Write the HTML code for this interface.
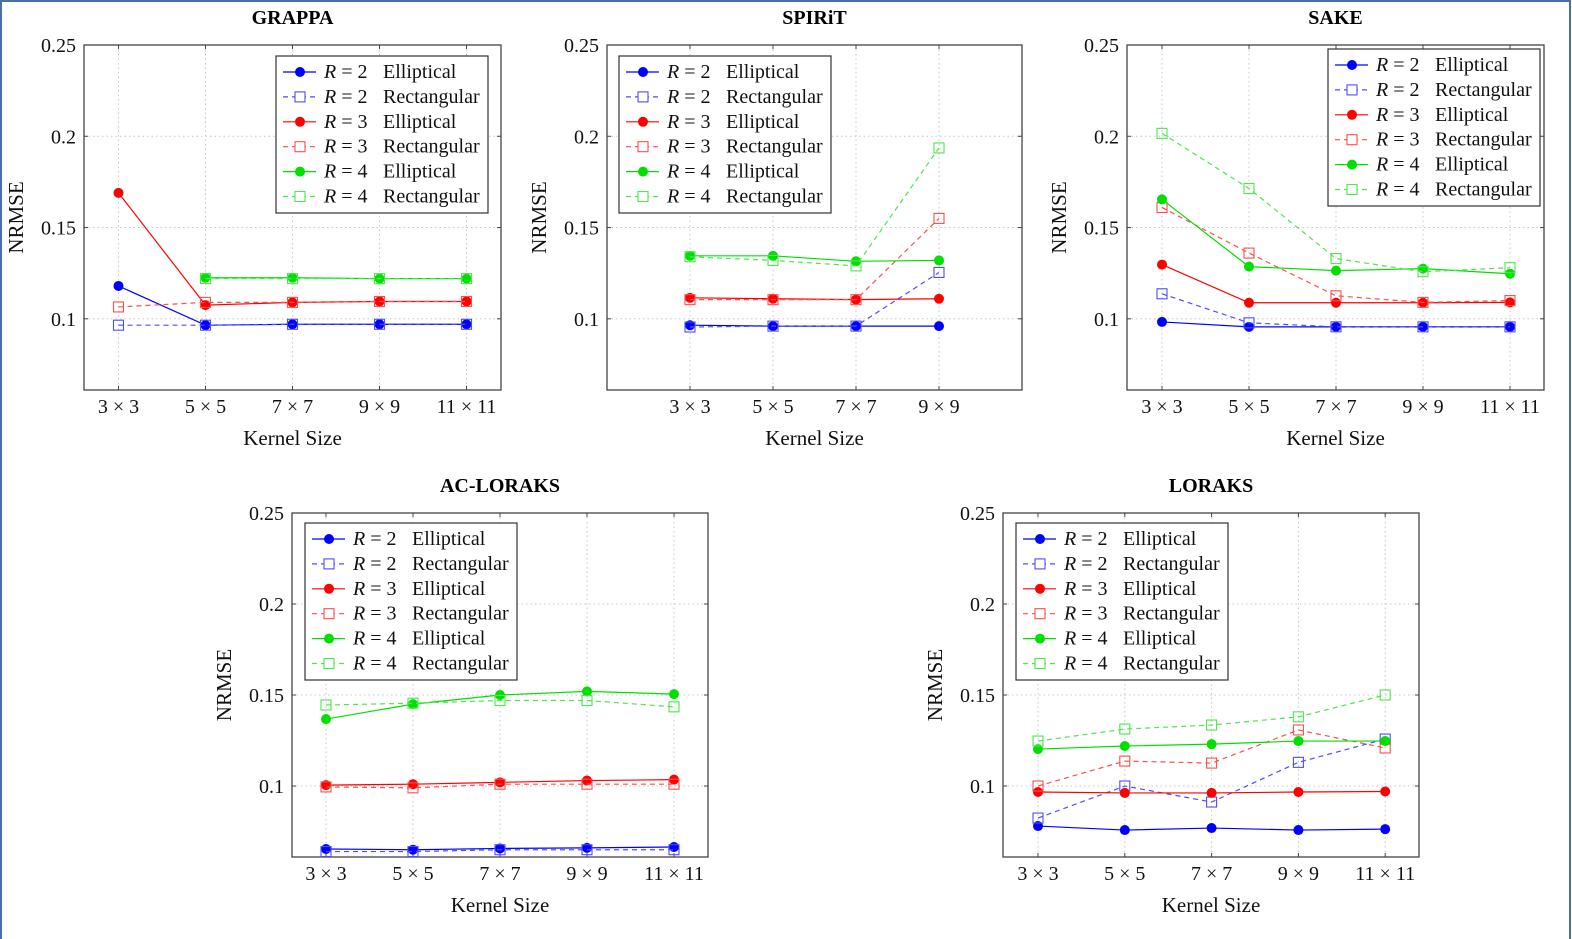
<!DOCTYPE html>
<html><head><meta charset="utf-8">
<style>
body{margin:0;background:#fff;}
svg{display:block;font-family:"Liberation Serif",serif;}
</style></head>
<body>
<svg id="c" width="1572" height="939" viewBox="0 0 1572 939">
<rect x="1" y="1" width="1569" height="950" fill="none" stroke="#4a6fa5" stroke-width="2"/>
</svg>
<script>
const kernelLabels = ["3 × 3","5 × 5","7 × 7","9 × 9","11 × 11"];
const yTicks = [0.1, 0.15, 0.2, 0.25];
const yTickLabels = ["0.1","0.15","0.2","0.25"];
const seriesNames = ["R2E","R2R","R3E","R3R","R4E","R4R"];
const seriesR = ["2","2","3","3","4","4"];
const seriesShape = ["Elliptical","Rectangular","Elliptical","Rectangular","Elliptical","Rectangular"];

const grappaR2E = [0.118,0.0965,0.097,0.097,0.097];
const grappaR2R = [0.0965,0.0965,0.097,0.097,0.097];
const grappaR3E = [0.169,0.1075,0.109,0.1095,0.1095];
const grappaR3R = [0.1065,0.109,0.109,0.1095,0.1095];
const grappaR4E = [null,0.1225,0.1225,0.122,0.122];
const grappaR4R = [null,0.122,0.122,0.122,0.122];

const spiritR2E = [0.0965,0.096,0.096,0.096];
const spiritR2R = [0.0955,0.096,0.096,0.1254];
const spiritR3E = [0.1115,0.111,0.1105,0.111];
const spiritR3R = [0.1105,0.1105,0.1105,0.155];
const spiritR4E = [0.1345,0.1345,0.1315,0.132];
const spiritR4R = [0.134,0.132,0.129,0.1936];

const sakeR2E = [0.0983,0.0956,0.0956,0.0956,0.0956];
const sakeR2R = [0.1137,0.0978,0.0956,0.0956,0.0956];
const sakeR3E = [0.1297,0.1088,0.1088,0.1088,0.109];
const sakeR3R = [0.161,0.136,0.1126,0.109,0.11];
const sakeR4E = [0.1654,0.1286,0.1264,0.1275,0.1247];
const sakeR4R = [0.2016,0.1714,0.133,0.1258,0.128];

const acR2E = [0.0654,0.065,0.0657,0.066,0.0665];
const acR2R = [0.064,0.064,0.065,0.065,0.065];
const acR3E = [0.1005,0.101,0.102,0.103,0.1035];
const acR3R = [0.0995,0.099,0.101,0.101,0.101];
const acR4E = [0.1368,0.145,0.150,0.152,0.1505];
const acR4R = [0.1445,0.1455,0.147,0.147,0.1435];

const lorR2E = [0.078,0.0758,0.0769,0.0758,0.0763];
const lorR2R = [0.0824,0.100,0.0912,0.113,0.1258];
const lorR3E = [0.0967,0.0962,0.0962,0.0967,0.097];
const lorR3R = [0.100,0.1137,0.1126,0.1308,0.1209];
const lorR4E = [0.1203,0.122,0.123,0.1247,0.1247];
const lorR4R = [0.1247,0.1313,0.1335,0.138,0.150];

const colors = ["#0000ff","#4d4dff","#ff0000","#ff4d4d","#00e000","#4de64d"];
const NS = "http://www.w3.org/2000/svg";
const svg = document.getElementById("c");
function mk(tag, attrs, parent, text){
  const e = document.createElementNS(NS, tag);
  for (const k in attrs) e.setAttribute(k, attrs[k]);
  if (text !== undefined) e.textContent = text;
  (parent||svg).appendChild(e);
  return e;
}

function drawPlot(cfg){
  const g = mk("g", {});
  
  
  const L=cfg.x0, R=cfg.x1, T=cfg.y0, B=cfg.y1;
  const yMin=0.061, yMax=0.25;
  const ys = v => B - (v - yMin)/(yMax - yMin)*(B - T);
  const xs = i => cfg.firstX + i*cfg.dx;
  const n = cfg.data[0].length;
  for (let i=0;i<n;i++){
    const gl = mk("line",{x1:xs(i),x2:xs(i),y1:T,y2:B,stroke:"#c8c8c8","stroke-dasharray":"1.5 3","stroke-width":1},g);
    
    
    mk("line",{x1:xs(i),x2:xs(i),y1:B,y2:B-4,stroke:"#444"},g);
    mk("line",{x1:xs(i),x2:xs(i),y1:T,y2:T+4,stroke:"#444"},g);
    const tl = mk("text",{x:xs(i),y:B+23,"text-anchor":"middle","font-size":20,fill:"#111"},g,kernelLabels[i]);
    
    
  }
  for (let j=0;j<yTicks.length;j++){
    const y = ys(yTicks[j]);
    if (j<yTicks.length-1){
      const gl = mk("line",{x1:L,x2:R,y1:y,y2:y,stroke:"#c8c8c8","stroke-dasharray":"1.5 3","stroke-width":1},g);
      
      
    }
    mk("line",{x1:L,x2:L+4,y1:y,y2:y,stroke:"#444"},g);
    mk("line",{x1:R,x2:R-4,y1:y,y2:y,stroke:"#444"},g);
    const tl = mk("text",{x:L-8,y:y+7,"text-anchor":"end","font-size":20,fill:"#111"},g,yTickLabels[j]);
    
    
  }
  const box = mk("rect",{x:L,y:T,width:R-L,height:B-T,fill:"none",stroke:"#444","stroke-width":1.3},g);
  
  
  const title = mk("text",{x:(L+R)/2,y:T-21,"text-anchor":"middle","font-size":20,"font-weight":"bold",fill:"#000"},g,cfg.title);
  
  
  const xt = mk("text",{x:(L+R)/2,y:B+55,"text-anchor":"middle","font-size":21,fill:"#111"},g,"Kernel Size");
  
  
  const cy=(T+B)/2, cx=L-61;
  const yt = mk("text",{x:cx,y:cy,"text-anchor":"middle","font-size":21,fill:"#111",transform:`rotate(-90 ${cx} ${cy})`},g,"NRMSE");
  
  
  cfg.data.forEach((arr,s)=>{
    const col = colors[s], rect = s%2===1;
    const sg = mk("g",{},g);
    
    
    let d="";
    arr.forEach((v,i)=>{ if(v===null) return; d += (d?"L":"M")+xs(i)+" "+ys(v)+" "; });
    mk("path",{d:d,fill:"none",stroke:col,"stroke-width":1.2,"stroke-dasharray":rect?"5 4":"none"},sg);
    arr.forEach((v,i)=>{
      if(v===null) return;
      let m;
      if(rect) m = mk("rect",{x:xs(i)-5,y:ys(v)-5,width:10,height:10,fill:"none",stroke:col,"stroke-width":1.1},sg);
      else m = mk("circle",{cx:xs(i),cy:ys(v),r:5,fill:col},sg);
      
      
    });
  });
  const lg = mk("g",{},g);
  
  
  const lx=cfg.lx, ly=cfg.ly;
  mk("rect",{x:lx,y:ly,width:212,height:157,fill:"#fff",stroke:"#333","stroke-width":1.2},lg);
  for(let s=0;s<6;s++){
    const y = ly+16+s*24.9, col=colors[s], rect=s%2===1;
    const e = mk("g",{},lg);
    
    
    mk("line",{x1:lx+7,x2:lx+40,y1:y,y2:y,stroke:col,"stroke-width":1.2,"stroke-dasharray":rect?"5 4":"none"},e);
    if(rect) mk("rect",{x:lx+19,y:y-5,width:10,height:10,fill:"#fff",stroke:col,"stroke-width":1.1},e);
    else mk("circle",{cx:lx+24,cy:y,r:5,fill:col},e);
    const t = mk("text",{x:lx+48,y:y+6,"font-size":20,fill:"#111"},e);
    mk("tspan",{"font-style":"italic"},t,"R");
    mk("tspan",{},t," = "+seriesR[s]);
    mk("text",{x:lx+107,y:y+6,"font-size":20,fill:"#111"},e,seriesShape[s]);
  }
}

drawPlot({id:"grappa",title:"GRAPPA",x0:84,x1:501,y0:45,y1:390,firstX:118.5,dx:87,lx:276,ly:56,
  data:[grappaR2E,grappaR2R,grappaR3E,grappaR3R,grappaR4E,grappaR4R]});
drawPlot({id:"spirit",title:"SPIRiT",x0:607,x1:1022,y0:45,y1:390,firstX:690,dx:83,lx:619,ly:56,
  data:[spiritR2E,spiritR2R,spiritR3E,spiritR3R,spiritR4E,spiritR4R]});
drawPlot({id:"sake",title:"SAKE",x0:1127,x1:1544,y0:45,y1:390,firstX:1162,dx:87,lx:1328,ly:49,
  data:[sakeR2E,sakeR2R,sakeR3E,sakeR3R,sakeR4E,sakeR4R]});
drawPlot({id:"ac-loraks",title:"AC-LORAKS",x0:292,x1:708,y0:513,y1:857,firstX:326,dx:87,lx:305,ly:523,
  data:[acR2E,acR2R,acR3E,acR3R,acR4E,acR4R]});
drawPlot({id:"loraks",title:"LORAKS",x0:1003,x1:1419,y0:513,y1:857,firstX:1038,dx:86.8,lx:1016,ly:523,
  data:[lorR2E,lorR2R,lorR3E,lorR3R,lorR4E,lorR4R]});
</script>
</body></html>
